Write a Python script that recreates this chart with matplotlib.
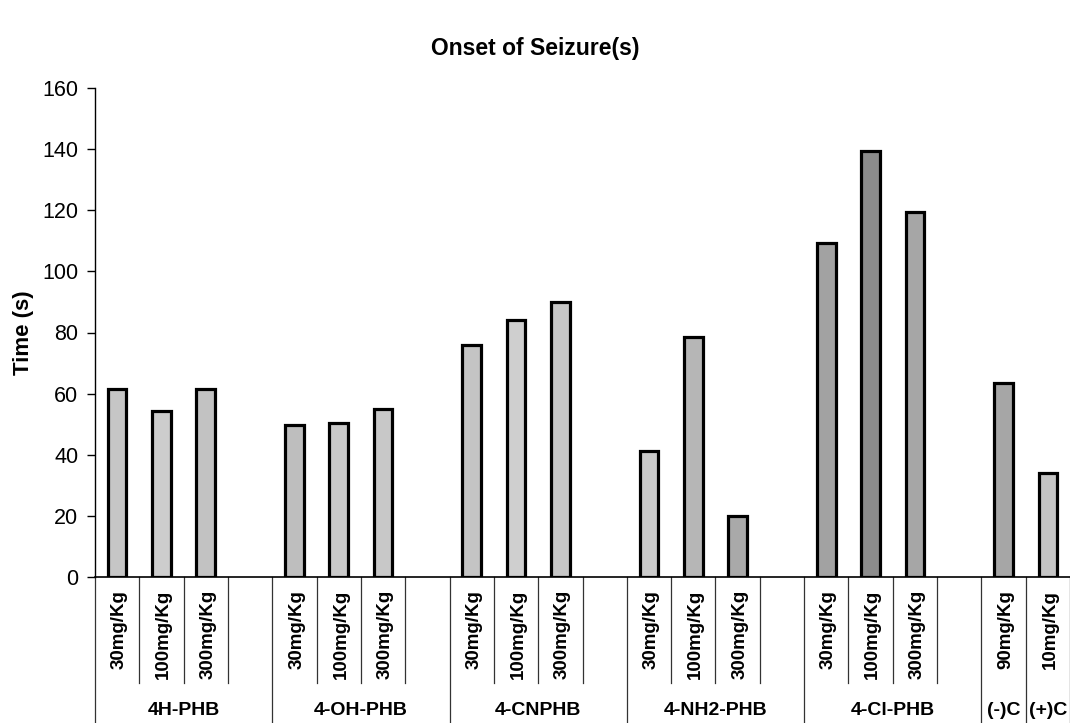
import matplotlib.pyplot as plt

plt.rcParams['font.family'] = ['Liberation Sans', 'DejaVu Sans']

# groups and their dose levels
groups = ["4H-PHB", "4-OH-PHB", "4-CNPHB", "4-NH2-PHB", "4-Cl-PHB", "(-)C", "(+)C"]
doses = [
    ["30mg/Kg", "100mg/Kg", "300mg/Kg"],
    ["30mg/Kg", "100mg/Kg", "300mg/Kg"],
    ["30mg/Kg", "100mg/Kg", "300mg/Kg"],
    ["30mg/Kg", "100mg/Kg", "300mg/Kg"],
    ["30mg/Kg", "100mg/Kg", "300mg/Kg"],
    ["90mg/Kg"],
    ["10mg/Kg"],
]
# onset times (s)
onset = [
    [61.4, 54.3, 61.4],
    [49.6, 50.5, 54.9],
    [76, 84, 90],
    [41.2, 78.5, 20],
    [109.2, 139.5, 119.5],
    [63.6],
    [33.9],
]
greys = [
    ["#c6c6c6", "#cdcdcd", "#c2c2c2"],
    ["#bebebe", "#c9c9c9", "#c8c8c8"],
    ["#c4c4c4", "#cfcfcf", "#c6c6c6"],
    ["#cacaca", "#b6b6b6", "#a9a9a9"],
    ["#a2a2a2", "#8c8c8c", "#a6a6a6"],
    ["#a6a6a6"],
    ["#c4c4c4"],
]

fig = plt.figure(figsize=(10.7, 7.23), dpi=100)
ax = fig.add_axes([95 / 1070, 1 - 577 / 723, 1 - 95 / 1070, (577 - 88) / 723])

tr = ax.get_xaxis_transform()
short_y, long_y = -0.217, -0.32
line_kw = dict(transform=tr, clip_on=False, color="#333333", lw=0.9)

slot = 0
ax.plot([0, 0], [0, long_y], **line_kw)
for g, name in enumerate(groups):
    n = len(doses[g])
    nslots = n + 1 if n > 1 else 1
    for i in range(n):
        x = slot + i + 0.5
        ax.bar(x, onset[g][i], width=0.42, color=greys[g][i],
               edgecolor="black", linewidth=2.3, zorder=3)
        ax.text(x + 0.05, -0.026, doses[g][i], transform=tr, rotation=90,
                ha="center", va="top", fontsize=13.5, fontweight="bold")
    # separators inside the group
    for k in range(1, nslots):
        ax.plot([slot + k, slot + k], [0, short_y], **line_kw)
    # group boundary
    ax.plot([slot + nslots, slot + nslots], [0, long_y], **line_kw)
    ax.text(slot + nslots / 2, -0.272, name, transform=tr, ha="center",
            va="center", fontsize=14, fontweight="bold")
    slot += nslots

ax.set_xlim(0, slot)
ax.set_ylim(0, 160)
ax.set_yticks(range(0, 161, 20))
ax.set_xticks([])
ax.tick_params(axis="y", labelsize=15.5, length=6, width=1, direction="out", pad=6)
ax.spines["top"].set_visible(False)
ax.spines["right"].set_visible(False)
ax.spines["bottom"].set_linewidth(1.2)
ax.spines["left"].set_linewidth(1.0)
ax.set_ylabel("Time (s)", fontsize=16, fontweight="bold", labelpad=6)

fig.text(0.5, 1 - 48 / 723, "Onset of Seizure(s)", ha="center", va="center",
         fontsize=16.5, fontweight="bold")

fig.savefig("out.png", dpi=100)
